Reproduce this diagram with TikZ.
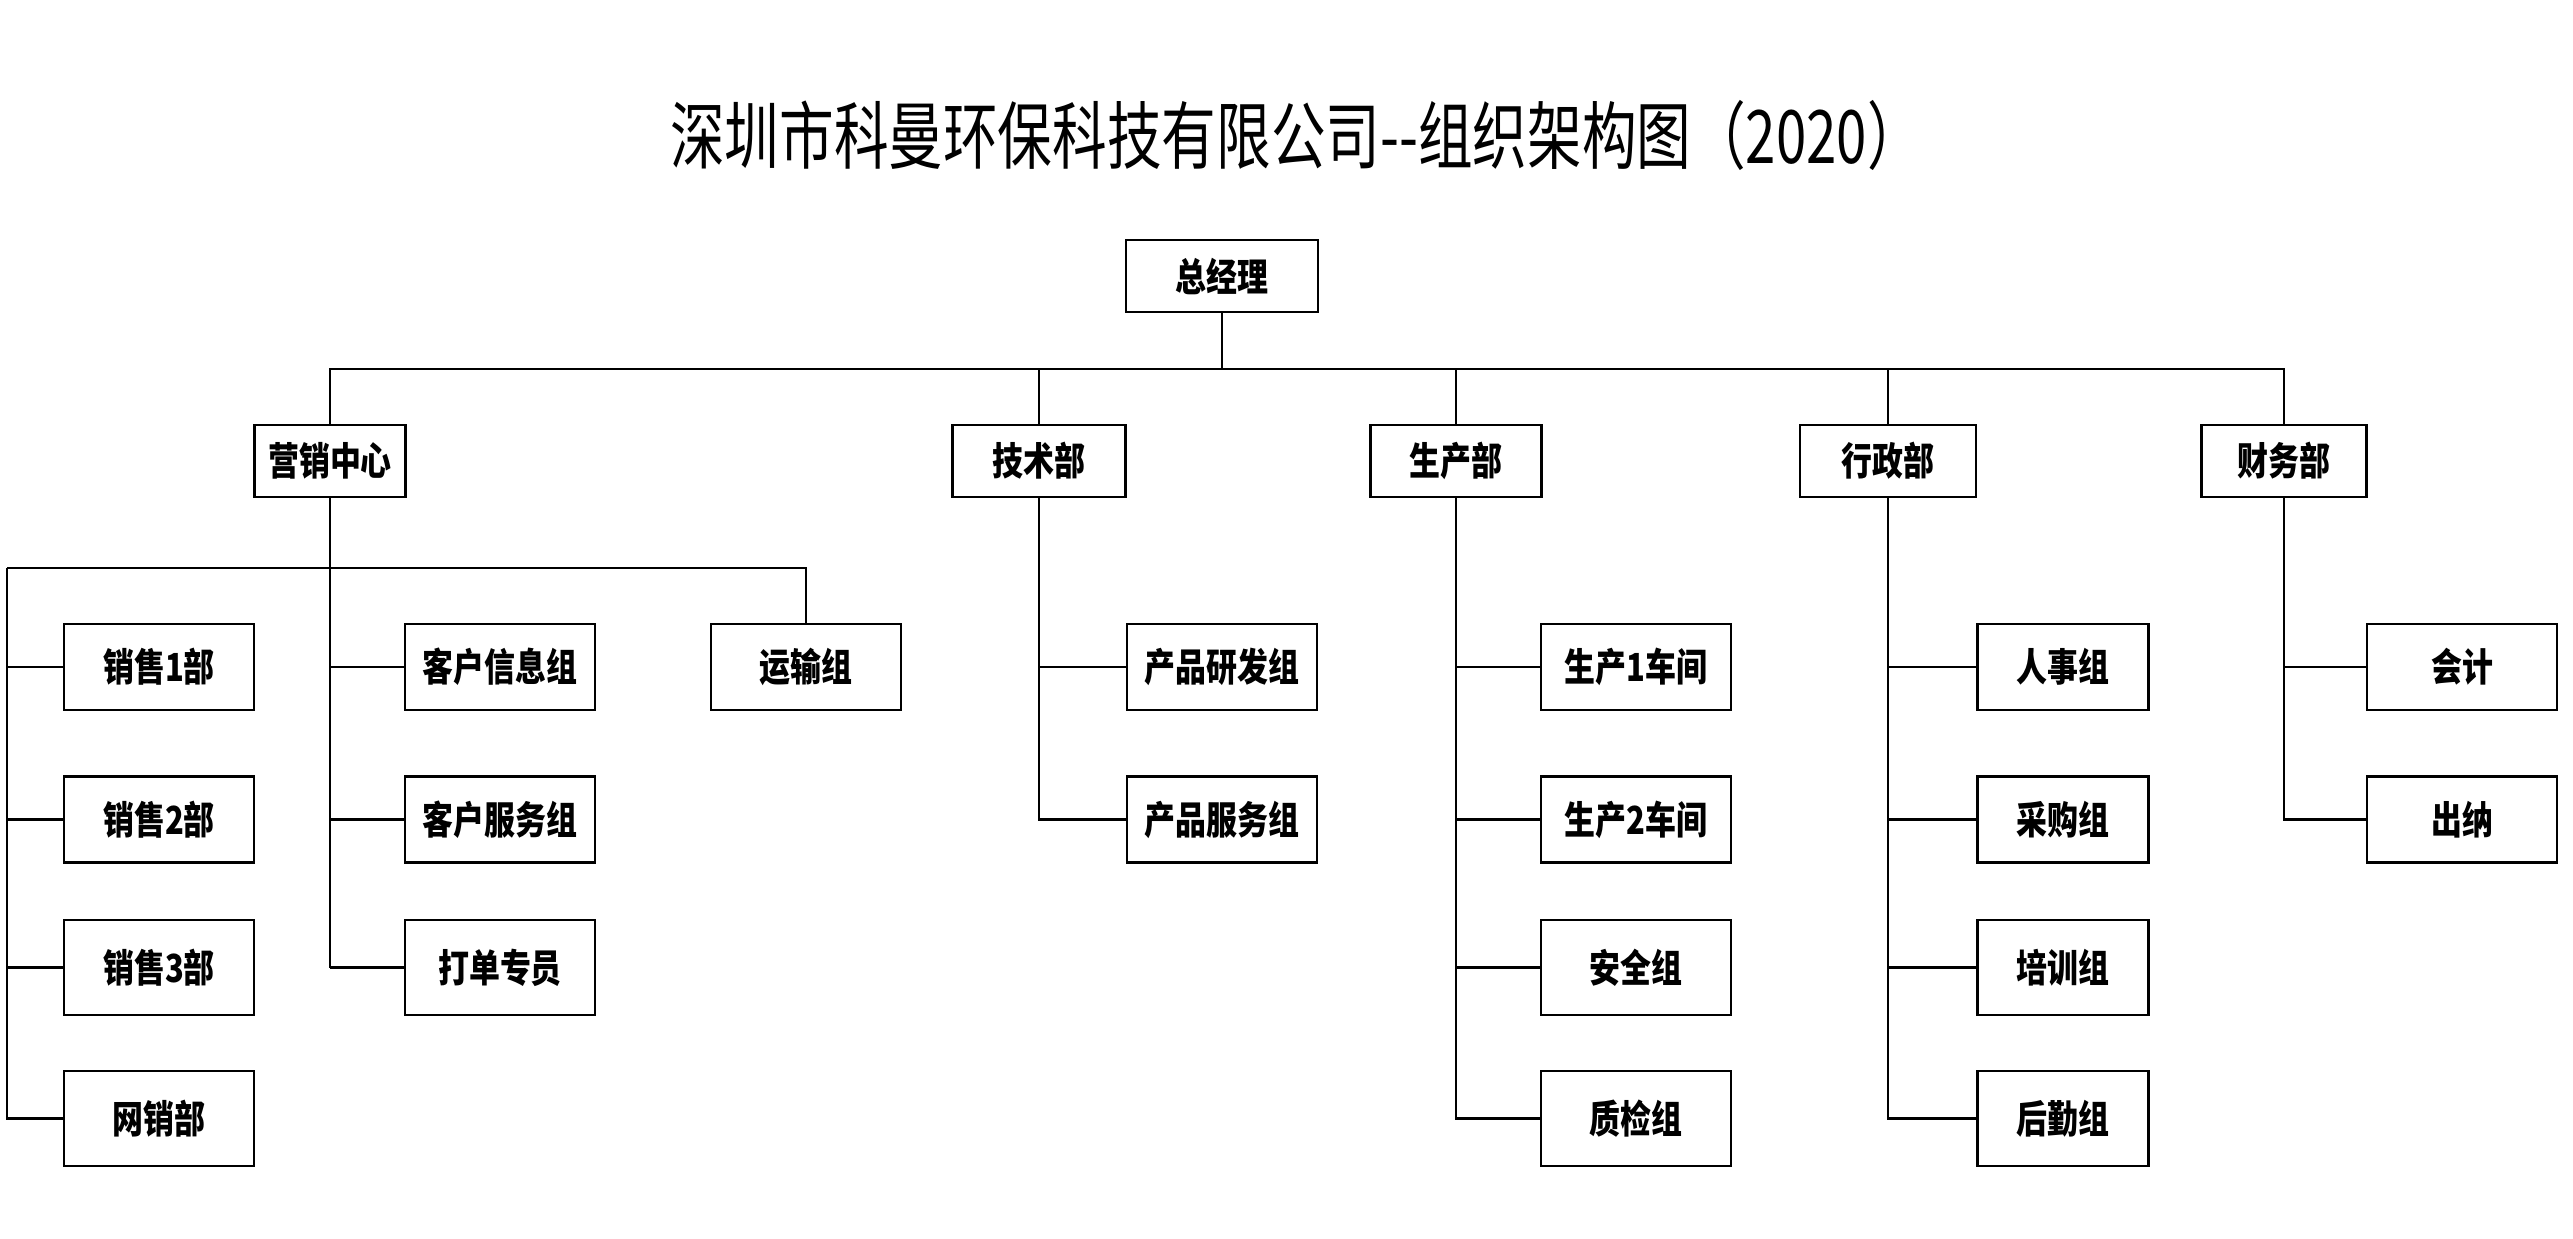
\documentclass[tikz,border=0pt]{standalone}
\usepackage{fontspec}
\newfontfamily\cjk[FakeStretch=0.8]{Noto Sans CJK SC}
\newfontfamily\cjktitle[FakeStretch=0.74,Ligatures=TeXOff]{Noto Sans CJK SC}

\begin{document}
\begin{tikzpicture}[x=1cm, y=1cm, line width=0.25mm,
  box/.style={draw, line width=0.25mm, align=center, inner sep=0pt,
              minimum width=1.9cm, minimum height=0.86cm,
              font=\cjk\bfseries\fontsize{11pt}{11pt}\selectfont},
  head/.style={box, minimum height=0.72cm},
  tall/.style={box, minimum height=0.95cm}]

\useasboundingbox (0,0) rectangle (25.73,-12.38);

% Titel
\node[font=\cjktitle\fontsize{21pt}{21pt}\selectfont] (title) at (12.96,-1.35)
  {深圳市科曼环保科技有限公司--组织架构图（2020）};

% obere Ebene
\node[head, minimum width=1.92cm] (gm) at (12.22,-2.76) {总经理};
\node[head, minimum width=1.51cm] (yx) at (3.30,-4.61)  {营销中心};
\node[head, minimum width=1.73cm] (js) at (10.39,-4.61) {技术部};
\node[head, minimum width=1.71cm] (sc) at (14.56,-4.61) {生产部};
\node[head, minimum width=1.76cm] (xz) at (18.88,-4.61) {行政部};
\node[head, minimum width=1.65cm] (cw) at (22.84,-4.61) {财务部};

%营销中心
\node[box]  (xs1) at (1.59,-6.67)   {销售1部};
\node[box]  (xs2) at (1.59,-8.195)  {销售2部};
\node[tall] (xs3) at (1.59,-9.675)  {销售3部};
\node[tall] (wx)  at (1.59,-11.185) {网销部};
\node[box]  (kx)  at (5.00,-6.67)   {客户信息组};
\node[box]  (kf)  at (5.00,-8.195)  {客户服务组};
\node[tall] (dd)  at (5.00,-9.675)  {打单专员};
\node[box]  (ys)  at (8.06,-6.67)   {运输组};

% Technik + Produktion
\node[box]  (yf)  at (12.22,-6.67)  {产品研发组};
\node[box]  (fw)  at (12.22,-8.195) {产品服务组};
\node[box]  (c1)  at (16.36,-6.67)  {生产1车间};
\node[box]  (c2)  at (16.36,-8.195) {生产2车间};
\node[tall] (aq)  at (16.36,-9.675) {安全组};
\node[tall] (zj)  at (16.36,-11.185){质检组};

% Verwaltung + Finanzen
\node[box, minimum width=1.71cm]  (rs) at (20.63,-6.67)   {人事组};
\node[box, minimum width=1.71cm]  (cg) at (20.63,-8.195)  {采购组};
\node[tall, minimum width=1.71cm] (px) at (20.63,-9.675)  {培训组};
\node[tall, minimum width=1.71cm] (hq) at (20.63,-11.185) {后勤组};
\node[box]  (kj)  at (24.62,-6.67)  {会计};
\node[box]  (cn)  at (24.62,-8.195) {出纳};

\coordinate (bus)  at (0,-3.69);
\coordinate (sbus) at (0.07,-5.68);

\draw (gm) -- (gm |- bus);
\draw (yx) -- (yx |- bus) -- (cw |- bus) -- (cw);
\foreach \n in {js,sc,xz}
  \draw (\n |- bus) -- (\n);

% Verkauf
\draw (yx) -- (yx |- dd);
\draw (sbus) -- (ys |- sbus) -- (ys);
\draw (sbus) |- (wx);
\foreach \n in {xs1,xs2,xs3}
  \draw (sbus |- \n) -- (\n);
\foreach \n in {kx,kf,dd}
  \draw (yx |- \n) -- (\n);

\draw (js) |- (fw);
\draw (js |- yf) -- (yf);
\draw (sc) |- (zj);
\foreach \n in {c1,c2,aq}
  \draw (sc |- \n) -- (\n);
\draw (xz) |- (hq);
\foreach \n in {rs,cg,px}
  \draw (xz |- \n) -- (\n);
\draw (cw) |- (cn);
\draw (cw |- kj) -- (kj);
\end{tikzpicture}
\end{document}
